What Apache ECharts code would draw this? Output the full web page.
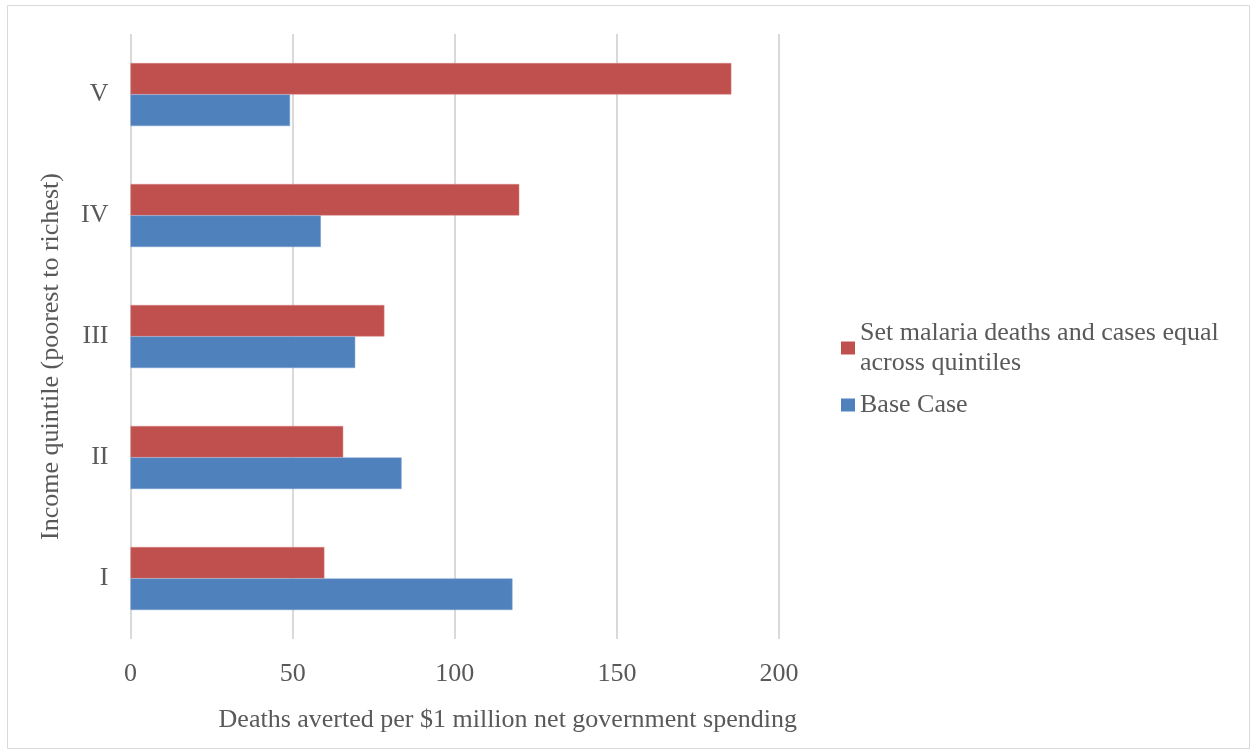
<!DOCTYPE html>
<html><head><meta charset="utf-8">
<script src="https://cdn.jsdelivr.net/npm/echarts@6/dist/echarts.min.js"></script>
<style>html,body{margin:0;padding:0;background:#fff}#c{width:1253px;height:753px}</style>
</head><body><div id="c"></div>
<script>
const categories = ['I', 'II', 'III', 'IV', 'V'];
const baseCase = [117.8, 83.6, 69.3, 58.7, 49.2];
const equalMalaria = [59.8, 65.6, 78.3, 119.9, 185.3];
const xTicks = [0, 50, 100, 150, 200];
const seriesNames = ['Set malaria deaths and cases equal\nacross quintiles', 'Base Case'];

const font = 'Liberation Serif';
const txt = '#595959';
const fs = 26;
const chart = echarts.init(document.getElementById('c'));
chart.setOption({
  animation: false,
  textStyle: {fontFamily: font},
  graphic: [{type: 'rect', shape: {x: 7.5, y: 5.5, width: 1242, height: 743}, style: {fill: 'none', stroke: '#d9d9d9', lineWidth: 1}}],
  grid: {left: 130.5, right: 474, top: 34, bottom: 114},
  legend: {
    orient: 'vertical', left: 841, top: 318, padding: 0,
    data: [seriesNames[0], seriesNames[1]],
    itemWidth: 14, itemHeight: 13, itemGap: 12,
    icon: 'rect',
    itemStyle: {borderWidth: 0},
    textStyle: {fontFamily: font, fontSize: fs, color: txt, lineHeight: 30}
  },
  xAxis: {
    type: 'value', min: xTicks[0], max: xTicks[xTicks.length - 1], interval: 50,
    axisLine: {show: false}, axisTick: {show: false},
    splitLine: {lineStyle: {color: '#d9d9d9', width: 2}},
    axisLabel: {fontFamily: font, fontSize: fs, color: txt, margin: 22},
    name: 'Deaths averted per $1 million net government spending',
    nameLocation: 'middle', nameGap: 68,
    nameTextStyle: {fontFamily: font, fontSize: fs, color: txt, padding: [0, 0, 0, 106]}
  },
  yAxis: {
    type: 'category', data: categories,
    axisLine: {show: false}, axisTick: {show: false},
    axisLabel: {fontFamily: font, fontSize: fs, color: txt, margin: 22},
    name: 'Income quintile (poorest to richest)',
    nameLocation: 'middle', nameGap: 66, nameRotate: 90,
    nameTextStyle: {fontFamily: font, fontSize: fs, color: txt, padding: [0, 40, 0, 0]}
  },
  series: [
    {name: seriesNames[0], type: 'bar', data: equalMalaria, barWidth: 31.5, barGap: '0%',
     itemStyle: {color: '#C0504D', borderColor: '#D98482', borderWidth: 0.5}},
    {name: seriesNames[1], type: 'bar', data: baseCase, barWidth: 31.5, barGap: '0%',
     itemStyle: {color: '#4F81BD', borderColor: '#7A9FD0', borderWidth: 0.5}}
  ]
});
</script></body></html>
